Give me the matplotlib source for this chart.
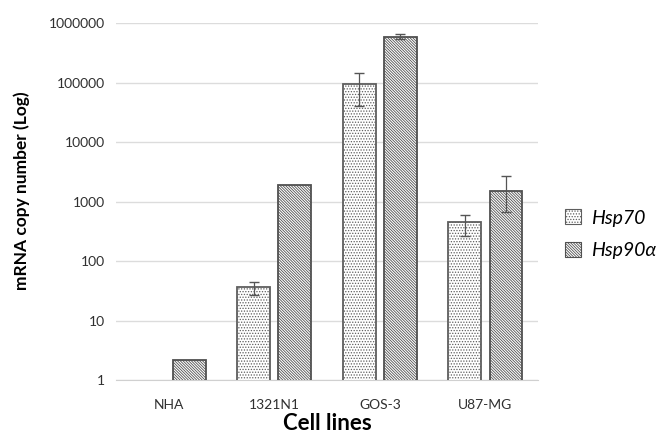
import numpy as np
import matplotlib
matplotlib.use("Agg")
import matplotlib.pyplot as plt
from matplotlib.patches import Patch

plt.rcParams['font.family'] = ['Lato', 'DejaVu Sans']
plt.rcParams['hatch.linewidth'] = 0.6

# data
cells = ['NHA', '1321N1', 'GOS-3', 'U87-MG']
hsp70 = [1.0, 36, 93000, 455]
hsp70_lo = [0, 9, 52700, 192]
hsp70_hi = [0, 9, 53000, 131]
hsp90 = [2.2, 1870, 589000, 1500]
hsp90_lo = [0, 0, 40000, 840]
hsp90_hi = [0, 0, 64000, 1180]
yticks = [1, 10, 100, 1000, 10000, 100000, 1000000]

fig = plt.figure(figsize=(6.6, 4.41), dpi=100)
ax = fig.add_axes([0.1758, 0.1383, 0.6394, 0.8095])

x = np.arange(len(cells))
w = 0.31
off = 0.195
sty70 = dict(facecolor='white', edgecolor='#5e5e5e', hatch='.' * 6, linewidth=1.3)
sty90 = dict(facecolor='white', edgecolor='#505050', hatch='\\' * 12, linewidth=1.3)

b1 = ax.bar(x - off, hsp70, w, zorder=3, **sty70)
b2 = ax.bar(x + off, hsp90, w, zorder=3, **sty90)
# a value of 1 has no height on the log axis
for r, v in zip(b1, hsp70):
    if v <= 1:
        r.set_visible(False)

m1 = np.array(hsp70_hi) > 0
ax.errorbar((x - off)[m1], np.array(hsp70)[m1],
            yerr=[np.array(hsp70_lo)[m1], np.array(hsp70_hi)[m1]],
            fmt='none', ecolor='#555555', elinewidth=0.9, capsize=3.5, zorder=4)
m2 = np.array(hsp90_hi) > 0
ax.errorbar((x + off)[m2], np.array(hsp90)[m2],
            yerr=[np.array(hsp90_lo)[m2], np.array(hsp90_hi)[m2]],
            fmt='none', ecolor='#555555', elinewidth=0.9, capsize=3.5, zorder=4)

ax.set_yscale('log')
ax.set_ylim(1, 1000000)
ax.set_xlim(-0.5, 3.5)
ax.set_yticks(yticks)
ax.set_yticklabels([str(t) for t in yticks])
ax.minorticks_off()
ax.set_xticks(x)
ax.set_xticklabels(cells)
ax.tick_params(length=0, labelsize=10, colors='#303030', pad=8)
ax.tick_params(axis='x', pad=14)
ax.grid(axis='y', color='#dcdcdc', linewidth=1, zorder=0)
for s in ['left', 'right', 'top']:
    ax.spines[s].set_visible(False)
ax.spines['bottom'].set_color('#d0d0d0')

ax.set_ylabel('mRNA copy number (Log)', fontsize=12.5, fontweight='bold')
ax.yaxis.set_label_coords(-0.205, 0.53)
ax.set_xlabel('Cell lines', fontsize=16, fontweight='bold', labelpad=1)

handles = [Patch(label='Hsp70', **dict(sty70, linewidth=0.8)),
           Patch(label='Hsp90α', **dict(sty90, linewidth=0.8))]
fig.legend(handles=handles, loc='upper left', bbox_to_anchor=(0.83, 0.565),
           frameon=False, handlelength=0.8, handleheight=0.8, handletextpad=0.5,
           labelspacing=0.8, prop={'style': 'italic', 'size': 14})

fig.savefig('out.png', dpi=100)
